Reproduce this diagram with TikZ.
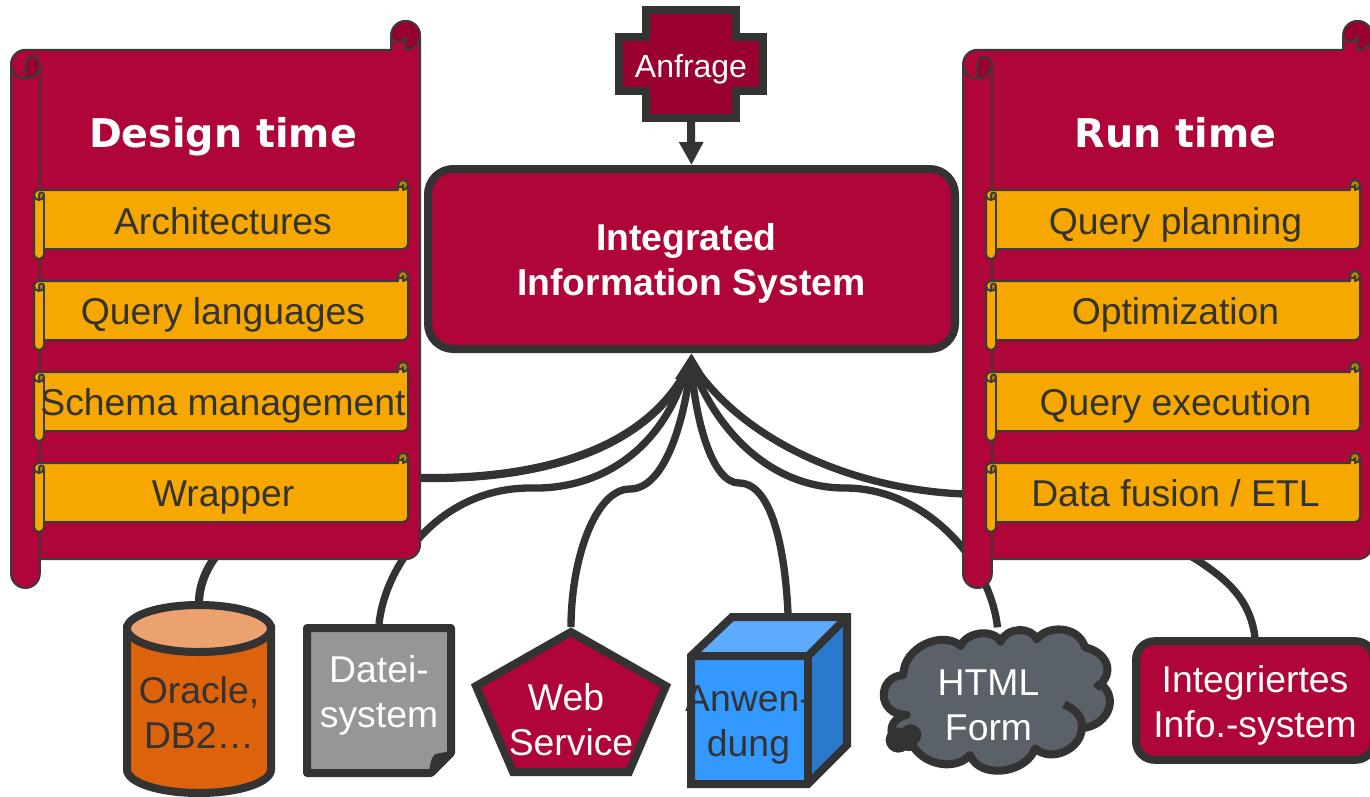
\documentclass[tikz,border=0pt]{standalone}
\usepackage{fontspec}
\setmainfont{Liberation Sans}
\newfontfamily\titlefont{DejaVu Sans}
\usetikzlibrary{arrows.meta,backgrounds}
\definecolor{crimson}{HTML}{AF0538}
\definecolor{crimsondark}{HTML}{99002F}
\definecolor{amber}{HTML}{F7A800}
\definecolor{amberdark}{HTML}{BC8300}
\definecolor{ink}{HTML}{333333}
\definecolor{thin}{HTML}{3B3B3B}
\definecolor{orangebody}{HTML}{DC620B}
\definecolor{orangetop}{HTML}{EBA26E}
\definecolor{paper}{HTML}{969696}
\definecolor{bluefront}{HTML}{3399FF}
\definecolor{bluetop}{HTML}{5CABFF}
\definecolor{blueside}{HTML}{2979CC}
\definecolor{cloudgrey}{HTML}{5B6168}
\tikzset{
  big/.style={font=\fontsize{28}{33.75}\selectfont,align=center,inner sep=0pt},
  darktext/.style={big,text=ink},
  lighttext/.style={big,text=white},
  rowtext/.style={darktext,anchor=base},
  titletext/.style={font=\titlefont\bfseries\fontsize{29.7}{34}\selectfont,text=white,inner sep=0pt,anchor=base},
  bound/.style={inner sep=0pt,outer sep=0pt},
  heavy/.style={draw=ink,line width=6pt,line join=miter},
  link/.style={draw=ink,line width=5.5pt},
  tiplink/.style={draw=ink,line width=6pt,-{Triangle[width=22.5pt,length=19.5pt]}},
  scrollline/.style={draw=thin,line width=1.5pt,line join=round},
}
% x0 y0 x1 y1 r body dark
\newcommand{\scrollshape}[7]{%
  \pgfmathsetmacro\xa{#1}\pgfmathsetmacro\xb{#1+#5}\pgfmathsetmacro\xc{#1+2*#5}%
  \pgfmathsetmacro\xe{#3}\pgfmathsetmacro\xd{#3-#5}\pgfmathsetmacro\xf{#3-2*#5}%
  \pgfmathsetmacro\ya{#2}\pgfmathsetmacro\yb{#2+#5}\pgfmathsetmacro\yc{#2+2*#5}%
  \pgfmathsetmacro\yg{#2+3*#5}\pgfmathsetmacro\yh{#2+4*#5}%
  \pgfmathsetmacro\ye{#4}\pgfmathsetmacro\yd{#4-#5}\pgfmathsetmacro\yf{#4-2*#5}%
  \pgfmathsetmacro\yi{#4-3*#5}%
  \pgfmathsetmacro\m{0.55*#5}%
  \path[scrollline,fill=#6] (\xc,\yf) -- (\xd,\yf)
    .. controls (\xd+\m,\yf) and (\xe,\yi+\m) .. (\xe,\yi)
    -- (\xe,\yb)
    .. controls (\xe,\yb-\m) and (\xd+\m,\ya) .. (\xd,\ya)
    .. controls (\xd-\m,\ya) and (\xf,\yb-\m) .. (\xf,\yb)
    -- (\xf,\yc) -- (\xb,\yc)
    .. controls (\xb-\m,\yc) and (\xa,\yg-\m) .. (\xa,\yg)
    -- (\xa,\yd)
    .. controls (\xa,\yd+\m) and (\xb-\m,\ye) .. (\xb,\ye)
    .. controls (\xb+\m,\ye) and (\xc,\yd+\m) .. (\xc,\yd)
    -- cycle;
  \path[scrollline,fill=#7] (\xf,\yb)
    .. controls (\xf,\yb+0.6*#5) and (\xd,\yb+0.6*#5) .. (\xd,\yb)
    -- (\xd,\yc)
    .. controls (\xd+\m,\yc) and (\xe,\yb+\m) .. (\xe,\yb)
    .. controls (\xe,\yb-\m) and (\xd+\m,\ya) .. (\xd,\ya)
    .. controls (\xd-\m,\ya) and (\xf,\yb-\m) .. (\xf,\yb) -- cycle;
  \path[scrollline,fill=#7] (\xb,\yh) -- (\xb,\yg)
    .. controls (\xb,\yc+0.33*#5) and (\xc,\yc+0.33*#5) .. (\xc,\yg)
    .. controls (\xc,\yg+\m) and (\xb+\m,\yh) .. (\xb,\yh) -- cycle;
  \path[scrollline] (\xa,\yg) .. controls (\xa,\yg+\m) and (\xb-\m,\yh) .. (\xb,\yh);
  \path[scrollline] (\xc,\yg) -- (\xc,\yd);
}
\begin{document}
\begin{tikzpicture}[x=0.75pt,y=-0.75pt]
\useasboundingbox (0,0) rectangle (1370,796);

% ---- scrolls
\scrollshape{11}{21}{420}{588}{14.4}{crimson}{crimsondark}
\scrollshape{963}{21}{1372}{588}{14.4}{crimson}{crimsondark}
\foreach \ytop in {180,271,362,453}{
  \pgfmathsetmacro\ybot{\ytop+79}
  \scrollshape{34}{\ytop}{408}{\ybot}{5}{amber}{amberdark}
  \scrollshape{986}{\ytop}{1360}{\ybot}{5}{amber}{amberdark}
}
\node[titletext] (design) at (223,147) {Design time};
\node[titletext] (run) at (1175.5,147) {Run time};
\node[rowtext] (arch) at (223,234) {Architectures};
\node[rowtext] (qlang) at (223,324) {Query languages};
\node[rowtext] (schema) at (223,415) {Schema management};
\node[rowtext] (wrap) at (223,506) {Wrapper};
\node[rowtext] (qplan) at (1175.5,234) {Query planning};
\node[rowtext] (optim) at (1175.5,324) {Optimization};
\node[rowtext] (qexec) at (1175.5,415) {Query execution};
\node[rowtext] (fusion) at (1175.5,506) {Data fusion / ETL};

% ---- central box
\node[heavy,fill=crimson,rounded corners=19pt,minimum width=395.25pt,minimum height=135pt,
      font=\bfseries\fontsize{28}{33.75}\selectfont,text=white,align=center,inner sep=0pt,outer sep=3pt]
      (iis) at (691.5,259) {\rule{0pt}{27pt}Integrated\kern7.5pt\\Information System};

% ---- query
\path[heavy,fill=crimsondark] (646,10) -- (736,10) -- (736,37) -- (763,37) -- (763,91) -- (736,91)
   -- (736,118) -- (646,118) -- (646,91) -- (619,91) -- (619,37) -- (646,37) -- cycle;
\node[bound,minimum width=114pt,minimum height=87pt,font=\fontsize{24}{28}\selectfont,text=white] (anfrage) at (691,64) {\rule{0pt}{25pt}Anfrage};

% ---- sources
% Oracle
\path[heavy,fill=orangebody] (127,628.5) -- (127,769.5)
  .. controls (127,782.5) and (159,793) .. (199,793)
  .. controls (239,793) and (271,782.5) .. (271,769.5)
  -- (271,628.5) -- cycle;
\path[heavy,fill=orangetop] (127,628.5)
  .. controls (127,615.5) and (159,605) .. (199,605)
  .. controls (239,605) and (271,615.5) .. (271,628.5)
  .. controls (271,641.5) and (239,652) .. (199,652)
  .. controls (159,652) and (127,641.5) .. (127,628.5) -- cycle;
\node[bound,minimum width=114pt,minimum height=147pt] (oracle) at (199,699) {};
\node[darktext] (oracletext) at (199,712) {Oracle,\\DB2…};
% File
\path[heavy,fill=paper,line join=round] (307,628) -- (451,628) -- (451,753) -- (431,773) -- (307,773) -- cycle;
\path[draw=ink,fill=ink,line width=3pt,line join=round] (451,753) -- (431,773)
  .. controls (432,764) and (433,759) .. (436,756) .. controls (440,755) and (446,754) .. (451,753) -- cycle;
\node[bound,minimum width=114pt,minimum height=114.75pt] (datei) at (379,700.5) {};
\node[lighttext] (dateitext) at (379,695) {Datei-\\system};
% Web service
\path[heavy,fill=crimson] (571,632) -- (666,686) -- (629,772) -- (513,772) -- (476,686) -- cycle;
\node[bound,minimum width=150pt,minimum height=111.75pt] (web) at (571,701.5) {};
\node[lighttext] (webtext) at (571,720) {Web\kern7.5pt\\Service};
% Application
\path[fill=bluefront] (691,656) rectangle (808,784);
\path[fill=bluetop] (691,656) -- (732,617) -- (847,617) -- (808,656) -- cycle;
\path[fill=blueside] (808,656) -- (847,617) -- (847,745) -- (808,784) -- cycle;
\path[heavy] (691,656) -- (732,617) -- (847,617) -- (847,745) -- (808,784) -- (691,784) -- cycle;
\path[heavy,line join=bevel] (691,656) -- (808,656) -- (847,617);
\path[heavy] (808,656) -- (808,784);
\node[bound,minimum width=123pt,minimum height=131.25pt] (anw) at (769,700.5) {};
\node[darktext] (anwtext) at (748.5,725) {Anwen-\\dung};
% Cloud
\begin{scope}[shift={(870,540)},scale=1/3]
\path[heavy,fill=cloudgrey,line join=round] (100,405)
  .. controls (100,320) and (220,270) .. (272,318)
  .. controls (290,275) and (370,265) .. (392,305)
  .. controls (410,260) and (485,260) .. (500,298)
  .. controls (530,255) and (625,255) .. (645,322)
  .. controls (705,335) and (735,390) .. (692,432)
  .. controls (745,470) and (720,555) .. (635,565)
  .. controls (635,625) and (545,670) .. (495,625)
  .. controls (470,700) and (330,720) .. (300,645)
  .. controls (260,690) and (170,680) .. (130,620)
  .. controls (60,630) and (35,540) .. (110,525)
  .. controls (20,525) and (20,410) .. (100,405) -- cycle;
\path[heavy,line join=round,line cap=butt] (582,493) .. controls (620,510) and (640,535) .. (635,565);
\path[heavy,line cap=butt] (678,445) -- (692,430);
\path[fill=ink] (85,600) circle[radius=38];
\path[fill=ink] (122,585) circle[radius=32];
\end{scope}
\node[bound,minimum width=176pt,minimum height=112pt] (cloud) at (997.5,702) {};
\node[lighttext] (cloudtext) at (988.5,705.5) {HTML\\Form};
% Integrated info system
\node[heavy,fill=crimson,rounded corners=14pt,minimum width=178.5pt,minimum height=89pt,
      inner sep=0pt,outer sep=3pt,font=\fontsize{28}{33.75}\selectfont,text=white,align=center]
      (info) at (1255,700.5) {\rule{0pt}{28pt}Integriertes\\Info.-system};

% ---- connectors
\coordinate (hub) at (691,362);
\coordinate (hubleft) at (684,376);
\coordinate (stem) at (691,385);
\coordinate (c1) at (420,478);
\coordinate (c2) at (530,488);
\coordinate (c3) at (630,489);
\coordinate (c4) at (739,483);
\coordinate (c5) at (845,488);
\coordinate (c6) at (964,494);
\coordinate (c7) at (1197,560);
\begin{scope}[on background layer]
\path[link,line width=6.2pt] (oracle.north) .. controls (202,530) and (310,478) .. (c1)
   .. controls (560,480) and (655,440) .. (hub);
\path[link] (datei.north) .. controls (385,565) and (440,488) .. (c2)
   .. controls (600,490) and (660,450) .. (hubleft);
\path[link] (web.north) .. controls (571,560) and (595,489) .. (c3)
   .. controls (665,489) and (685,420) .. (hub);
\path[link] ([xshift=14.25pt]anw.north) .. controls (785,550) and (772,483) .. (c4)
   .. controls (712,483) and (695,420) .. (hub);
\path[link] (cloud.north) .. controls (990,560) and (925,488) .. (c5)
   .. controls (770,488) and (715,430) .. (hub);
\path[link] (info.north) .. controls (1250,600) and (1228,580) .. (c7)
   .. controls (1130,518) and (1040,500) .. (c6)
   .. controls (860,490) and (745,445) .. (hub);
\end{scope}
\draw[tiplink] (stem) -- (iis.south);
\draw[tiplink,-{Triangle[width=17.25pt,length=17.25pt]}] (anfrage.south) -- (iis.north);
\end{tikzpicture}
\end{document}
